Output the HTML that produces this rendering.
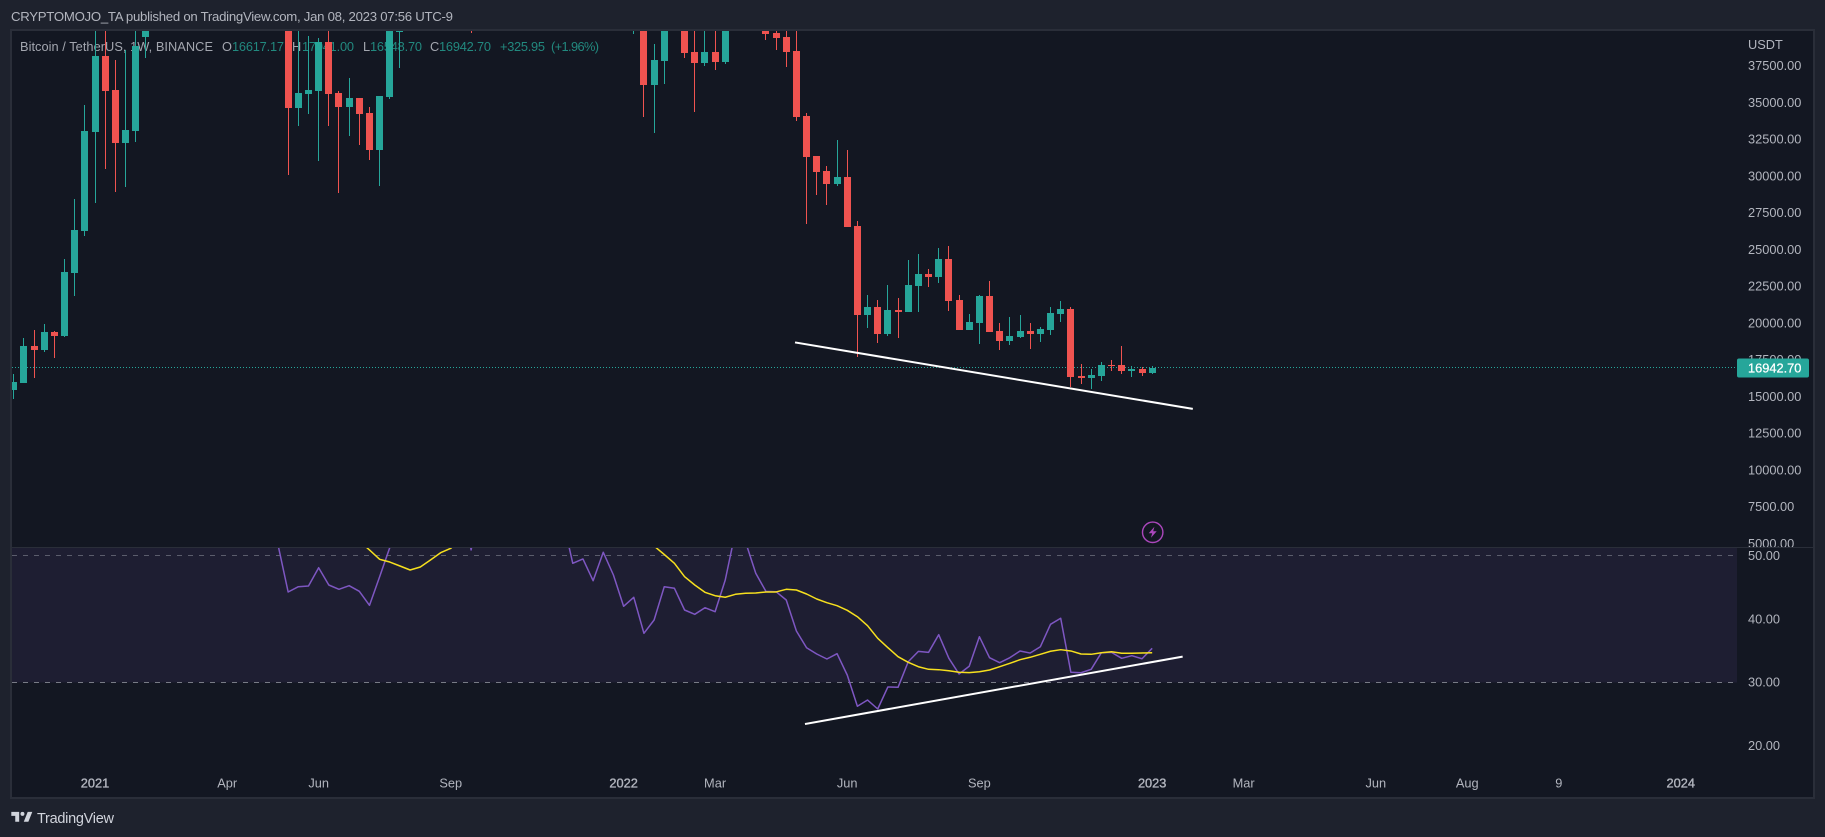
<!DOCTYPE html>
<html lang="en">
<head>
<meta charset="utf-8">
<title>BTC/USDT weekly chart</title>
<style>
html,body{margin:0;padding:0;background:#1e222d;width:1825px;height:837px;overflow:hidden}
svg{position:absolute;left:0;top:0;display:block}
text{font-family:"Liberation Sans",Arial,sans-serif;font-size:12.8px}
</style>
</head>
<body>
<svg id="chart" width="1825" height="837" viewBox="0 0 1825 837" xmlns="http://www.w3.org/2000/svg">
  <defs>
    <clipPath id="mainClip"><rect x="12" y="30" width="1725" height="517"></rect></clipPath>
    <clipPath id="rsiClip"><rect x="12" y="548" width="1725" height="249"></rect></clipPath>
  </defs>
  <rect x="0" y="0" width="1825" height="837" fill="#1e222d"></rect>
  <text x="11" y="21" fill="#b2b5be" textLength="442" lengthAdjust="spacing" style="font-size:13.2px">CRYPTOMOJO_TA published on TradingView.com, Jan 08, 2023 07:56 UTC-9</text>
  <rect x="12" y="31" width="1801" height="766" fill="#131722"></rect>

  <g>
    <text x="20" y="51" fill="#a3a6af" textLength="193" lengthAdjust="spacing">Bitcoin / TetherUS, 1W, BINANCE</text>
    <text x="222" y="51" fill="#a3a6af">O</text>
    <text x="232" y="51" fill="#22897f" textLength="52" lengthAdjust="spacing">16617.17</text>
    <text x="292" y="51" fill="#a3a6af">H</text>
    <text x="302" y="51" fill="#22897f" textLength="52" lengthAdjust="spacing">17041.00</text>
    <text x="363" y="51" fill="#a3a6af">L</text>
    <text x="370" y="51" fill="#22897f" textLength="52" lengthAdjust="spacing">16548.70</text>
    <text x="430" y="51" fill="#a3a6af">C</text>
    <text x="439" y="51" fill="#22897f" textLength="52" lengthAdjust="spacing">16942.70</text>
    <text x="500" y="51" fill="#22897f" textLength="45" lengthAdjust="spacing">+325.95</text>
    <text x="551" y="51" fill="#22897f" textLength="48" lengthAdjust="spacing">(+1.96%)</text>
  </g>

  <line id="lastPriceLine" x1="12" x2="1737" stroke="#26a69a" stroke-width="1" stroke-dasharray="1 2" shape-rendering="crispEdges"></line>
  <g id="candles" clip-path="url(#mainClip)" shape-rendering="crispEdges"></g>
  <line id="priceTrend" stroke="#ffffff" stroke-width="2" stroke-linecap="square"></line>

  <g id="priceAxis"></g>
  <text x="1748" y="49" fill="#b2b5be">USDT</text>
  <rect id="lastPriceTag" x="1737" width="72" height="19" rx="2" fill="#26a69a"></rect>
  <text id="lastPriceText" x="1748" fill="#ffffff" stroke="#ffffff" stroke-width="0.25">16942.70</text>

  <g>
    <circle cx="1152.7" cy="532.3" r="10.2" fill="#131722" stroke="#ab47bc" stroke-width="1.4"></circle>
    <polygon points="1154.4,526.8 1148.7,533.3 1152.2,533.3 1151,537.8 1156.7,531.3 1153.2,531.3" fill="#ab47bc"></polygon>
  </g>

  <rect x="12" y="548" width="1801" height="249" fill="#131722"></rect>
  <rect id="rsiBand" x="12" y="548" width="1725" fill="#1e1e32"></rect>
  <line id="rsiUpper" x1="12" x2="1735" stroke="#5b5d6c" stroke-width="1" stroke-dasharray="5 6" shape-rendering="crispEdges"></line>
  <line id="rsiLower" x1="12" x2="1735" stroke="#787b86" stroke-width="1" stroke-dasharray="5 6" shape-rendering="crispEdges"></line>
  <g clip-path="url(#rsiClip)">
    <path id="rsiLine" fill="none" stroke="#7e57c2" stroke-width="1.5" stroke-linejoin="round"></path>
    <path id="rsiMaLine" fill="none" stroke="#f7e01e" stroke-width="1.5" stroke-linejoin="round"></path>
  </g>
  <line id="rsiTrend" stroke="#ffffff" stroke-width="2" stroke-linecap="square"></line>
  <g id="rsiAxis"></g>
  <g id="timeAxis"></g>

  <line x1="12" x2="1813" y1="547.5" y2="547.5" stroke="#2a2e39" stroke-width="1" shape-rendering="crispEdges"></line>
  <rect x="11" y="30" width="1803" height="768" fill="none" stroke="#2a2e39" stroke-width="2" shape-rendering="crispEdges"></rect>

  <g>
    <path transform="translate(10,808) scale(0.656)" fill="#d1d4dc" d="M14 6H2v6h6v9h6V6zm14 15h-7l6-15h7l-6 15zm-9-9a3 3 0 1 0 0-6 3 3 0 0 0 0 6z"></path>
    <text x="37" y="823" fill="#d1d4dc" textLength="77" lengthAdjust="spacing" style="font-size:14.5px">TradingView</text>
  </g>
</svg>
<script>
// Weekly BTC/USDT candles, index 0 = Nov 2020, index 112 = Jan 2023.
const opens = [
15434,15910,18426,18154,19378,19106,23390,26246,32978,38146,
35834,32230,33046,39438,48600,57400,45200,51000,59000,58000,
55800,58000,60000,56100,49100,58900,58200,46400,34610,35562,
35766,39098,35630,34678,35290,34270,31754,35358,39778,44600,
47000,49000,48800,51700,46000,48300,43100,48200,54900,61500,
60900,61300,63200,65500,58600,57200,49300,50000,46700,50700,
47700,41800,43100,36174,37806,41400,42200,38418,37670,38418,
37738,41300,44500,45800,42100,39710,39438,38486,34066,31346,
30326,29442,29918,26586,20534,21078,19242,20874,20738,22506,
23322,23118,24342,21554,19514,19990,21826,19446,18766,19038,
19446,19242,19514,20602,20942,16386,16250,16386,17134,17134,
16726,16862,16617.17];
const highs = [
16522,18970,19514,19922,19446,24342,28422,34814,41950,40800,
37874,38554,41900,49000,58300,58000,52600,61700,61800,61000,
59500,61000,64800,56500,58900,59500,59000,46600,40800,39506,
39370,41300,35766,36650,35290,34678,35426,42600,45300,48100,
50500,49600,52900,52900,48800,48300,48400,56000,62900,67000,
63700,64200,68800,66300,59500,59000,51900,50800,51900,52000,
47900,44400,43500,38962,41900,45800,44700,40100,45000,42600,
42300,45000,48200,47500,42400,42900,40800,40050,34270,31346,
30666,32434,31754,26926,21894,21554,22574,21690,24274,24682,
23662,25090,25226,21894,20602,21894,22846,19990,20398,20534,
19990,19718,21078,21486,21078,17202,16862,17338,17474,18426,
17066,16998,17041];
const lows = [
14822,15910,16250,18018,17610,19038,21826,25906,28150,30462,
28898,29238,32298,38010,47000,43000,44900,49000,53000,50500,
50400,55400,53000,47500,48500,56000,42100,30054,33386,34202,
31006,33386,28830,32706,32094,31074,29306,35222,37330,43800,
44400,46400,46500,42900,43400,39690,40800,47100,53900,59500,
58000,57800,62300,55600,53300,42000,46800,45500,45600,46000,
40500,39642,33998,32910,36242,41000,38010,34338,37466,37194,
37602,40400,44300,41900,39234,38554,37398,33726,26722,28694,
28014,29306,26518,17698,19650,18630,19106,18970,20738,20738,
22438,22710,20806,19514,19514,18562,19378,18154,18494,18970,
18222,18698,19174,20058,15638,15842,15502,16046,16726,16522,
16318,16386,16548.7];
const closes = [
15978,18426,18154,19378,19106,23458,26314,33046,38146,35766,
32230,33114,38826,48600,57400,45200,51000,59000,58000,55800,
58000,60000,56100,49100,58900,58200,46400,34610,35630,35834,
39098,35562,34678,35290,34202,31754,35426,39846,44600,47000,
49000,48800,51700,46000,48300,43100,48200,54900,61500,60900,
61300,63200,65500,58600,57200,49300,50000,46700,50700,47700,
41800,43100,36174,37874,41400,42200,38350,37670,38418,37738,
41300,44500,45800,42100,39642,39370,38418,33998,31278,30258,
29442,29918,26518,20534,21078,19242,20874,20738,22574,23322,
23118,24342,21486,19514,20058,21826,19378,18766,19106,19446,
19242,19582,20670,20942,16318,16250,16454,17134,17066,16726,
16862,16590,16942.7];
const rsiValues = [
72,74,72,75,74,81,84,88,89,84,
78,78,80,84,87,80,76,79,76,72,
72,72,71,62,67,66,51.7,44.23,45.07,45.18,
48.07,45.34,44.66,45.23,44.34,42.13,46.65,51.26,58,62,
65,64,66,58,60,50.87,60,68,74,72,
72,74,72,62,55.8,48.77,49.45,46.02,50.51,46.92,
41.98,43.40,37.71,39.81,45.07,44.82,41.39,40.71,41.75,41.12,
46.13,53.76,52.13,47.19,44.34,44.28,42.97,38.07,35.43,34.44,
33.65,34.49,31.12,26.18,27.17,25.75,29.23,29.18,33.22,34.86,
34.70,37.49,33.76,31.28,32.50,37.17,33.86,33.07,33.86,34.91,
34.59,35.59,39.13,40.08,31.55,31.48,32.02,34.64,34.70,33.76,
34.17,33.69,35.34];
const rsiMaValues = [
62,63,64,65,66,68,70,72,74,75,
76,77,78,79,80,80,79,78,77,76,
75,74,73,72,70,68,66,63,60,58,
56,55,54,53,52.29,50.87,49.40,48.97,48.34,47.71,
48.18,49.29,50.44,51.14,52.6,54,55,56,58,60,
62,63,65,66,66,65,63,62,60,58,
56,55,53,51.50,50.16,48.77,46.65,45.34,44.19,43.65,
43.40,43.87,44.03,44.08,44.24,44.24,44.66,44.55,43.92,43.13,
42.55,42.07,41.34,40.33,38.91,36.92,35.44,34.01,33.13,32.43,
32.02,31.96,31.80,31.55,31.49,31.64,31.91,32.43,32.97,33.54,
33.92,34.39,34.87,35.12,34.92,34.44,34.39,34.64,34.80,34.55,
34.55,34.60,34.64];
const priceTicks = [37500,35000,32500,30000,27500,25000,22500,20000,17500,15000,12500,10000,7500,5000];
const rsiTicks = [50,40,30,20];
const rsiLevels = [50,30];
const timeLabels = ['2021','Apr','Jun','Sep','2022','Mar','Jun','Sep','2023','Mar','Jun','Aug','9','2024'];
const timeLabelBars = [8,21,30,43,60,69,82,95,112,121,134,143,152,164];
const timeLabelMajor = [1,0,0,0,1,0,0,0,1,0,0,0,0,1];
const lastPrice = 16942.7;
const priceTrendBars = [76.96,115.9];
const priceTrendValues = [18657,14162];
const rsiTrendBars = [77.94,114.9];
const rsiTrendValues = [23.41,34.0];

const NS = 'http://www.w3.org/2000/svg';
function xScale(i){ return 13.7 + 10.165 * i; }
function yPrice(p){ return (41954 - p) / 68; }
function yRsi(v){ return 618.8 + (40 - v) * 6.33; }
function mk(tag, attrs){
  const el = document.createElementNS(NS, tag);
  for (const k in attrs) el.setAttribute(k, attrs[k]);
  return el;
}
function linePath(values){
  let d = '';
  values.forEach(function(v, i){
    d += (i ? 'L' : 'M') + xScale(i).toFixed(2) + ' ' + yRsi(v).toFixed(2);
  });
  return d;
}

const candlesG = document.getElementById('candles');
opens.forEach(function(o, i){
  const c = closes[i];
  const col = Math.floor(xScale(i));
  const color = c >= o ? '#26a69a' : '#ef5350';
  const wTop = Math.round(yPrice(highs[i]));
  const wBot = Math.round(yPrice(lows[i]));
  const wick = mk('rect', {x: col, y: wTop, width: 1, height: Math.max(1, wBot - wTop), fill: color});
  
  
  candlesG.appendChild(wick);
  const bTop = Math.round(yPrice(Math.max(o, c)));
  const bBot = Math.round(yPrice(Math.min(o, c)));
  const body = mk('rect', {x: col - 3, y: bTop, width: 7, height: Math.max(1, bBot - bTop), fill: color});
  
  
  candlesG.appendChild(body);
});

const lastY = Math.floor(yPrice(lastPrice)) + 0.5;
const lastLine = document.getElementById('lastPriceLine');
lastLine.setAttribute('y1', lastY);
lastLine.setAttribute('y2', lastY);
document.getElementById('lastPriceTag').setAttribute('y', Math.round(yPrice(lastPrice)) - 9.5);
document.getElementById('lastPriceText').setAttribute('y', yPrice(lastPrice) + 4.5);

const priceAxisG = document.getElementById('priceAxis');
priceTicks.forEach(function(t){
  const label = mk('text', {x: 1748, y: yPrice(t) + 4.5, fill: '#b2b5be'});
  
  
  label.textContent = t.toFixed(2);
  priceAxisG.appendChild(label);
});

const rsiAxisG = document.getElementById('rsiAxis');
rsiTicks.forEach(function(t){
  const label = mk('text', {x: 1748, y: yRsi(t) + 4.5, fill: '#b2b5be'});
  
  
  label.textContent = t.toFixed(2);
  rsiAxisG.appendChild(label);
});

const timeAxisG = document.getElementById('timeAxis');
timeLabels.forEach(function(t, i){
  const label = mk('text', {x: xScale(timeLabelBars[i]), y: 787.3, fill: '#b2b5be', 'text-anchor': 'middle'});
  
  
  if (timeLabelMajor[i]) {
    label.setAttribute('stroke', '#b2b5be');
    label.setAttribute('stroke-width', '0.35');
  }
  label.textContent = t;
  timeAxisG.appendChild(label);
});

const bandTop = Math.floor(yRsi(rsiLevels[0])) + 0.5;
const bandBot = Math.floor(yRsi(rsiLevels[1])) + 0.5;
const upper = document.getElementById('rsiUpper');
upper.setAttribute('y1', bandTop);
upper.setAttribute('y2', bandTop);
const lower = document.getElementById('rsiLower');
lower.setAttribute('y1', bandBot);
lower.setAttribute('y2', bandBot);
document.getElementById('rsiBand').setAttribute('height', bandBot - 548);

document.getElementById('rsiLine').setAttribute('d', linePath(rsiValues));
document.getElementById('rsiMaLine').setAttribute('d', linePath(rsiMaValues));

const pt = document.getElementById('priceTrend');
pt.setAttribute('x1', xScale(priceTrendBars[0]));
pt.setAttribute('x2', xScale(priceTrendBars[1]));
pt.setAttribute('y1', yPrice(priceTrendValues[0]));
pt.setAttribute('y2', yPrice(priceTrendValues[1]));
const rt = document.getElementById('rsiTrend');
rt.setAttribute('x1', xScale(rsiTrendBars[0]));
rt.setAttribute('x2', xScale(rsiTrendBars[1]));
rt.setAttribute('y1', yRsi(rsiTrendValues[0]));
rt.setAttribute('y2', yRsi(rsiTrendValues[1]));
</script>
</body>
</html>
